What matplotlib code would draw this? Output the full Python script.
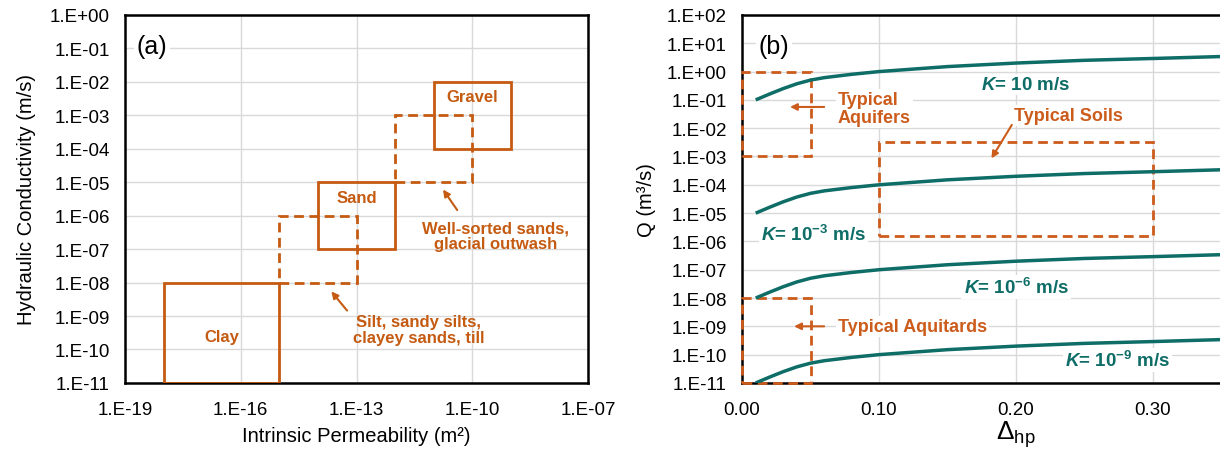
import math
import matplotlib
matplotlib.use("Agg")
import matplotlib.pyplot as plt
from matplotlib.patches import Rectangle
from matplotlib.ticker import FixedLocator, FuncFormatter

plt.rcParams['font.family'] = ['Liberation Sans', 'DejaVu Sans']
plt.rcParams['mathtext.fontset'] = 'custom'
plt.rcParams['mathtext.rm'] = 'Liberation Sans'
plt.rcParams['mathtext.it'] = 'Liberation Sans:italic'
plt.rcParams['mathtext.bf'] = 'Liberation Sans:bold'
plt.rcParams['mathtext.bfit'] = 'Liberation Sans:bold:italic'

ORANGE = '#C55A11'
ORANGE_B = '#CC5C1C'
TEAL = '#0E6D67'
GRID = '#D9D9D9'

# ---- panel (a): material ranges (permeability vs conductivity) ----
mat_names = ['Clay', 'Silt', 'Sand', 'Well-sorted', 'Gravel']
mat_kmin = [1e-18, 1e-15, 1e-14, 1e-12, 1e-11]
mat_kmax = [1e-15, 1e-13, 1e-12, 1e-10, 1e-9]
mat_hmin = [1e-11, 1e-8, 1e-7, 1e-5, 1e-4]
mat_hmax = [1e-8, 1e-6, 1e-5, 1e-3, 1e-2]
mat_dashed = [False, True, False, True, False]

# ---- panel (b): discharge vs Delta_hp ----
dhp = [0.01, 0.02, 0.03, 0.04, 0.05, 0.06, 0.08, 0.10, 0.15, 0.20, 0.25, 0.30, 0.35, 0.40]
q_k1e1 = [1.0e-1, 1.6e-1, 2.5e-1, 3.7e-1, 5.0e-1, 6.1e-1, 8.0e-1, 1.0, 1.5, 2.0, 2.5, 2.9, 3.4, 3.8]
q_k1e3 = [1.0e-5, 1.6e-5, 2.5e-5, 3.7e-5, 5.0e-5, 6.1e-5, 8.0e-5, 1.0e-4, 1.5e-4, 2.0e-4, 2.5e-4, 2.9e-4, 3.4e-4, 3.8e-4]
q_k1e6 = [1.0e-8, 1.6e-8, 2.5e-8, 3.7e-8, 5.0e-8, 6.1e-8, 8.0e-8, 1.0e-7, 1.5e-7, 2.0e-7, 2.5e-7, 2.9e-7, 3.4e-7, 3.8e-7]
q_k1e9 = [1.0e-11, 1.6e-11, 2.5e-11, 3.7e-11, 5.0e-11, 6.1e-11, 8.0e-11, 1.0e-10, 1.5e-10, 2.0e-10, 2.5e-10, 2.9e-10, 3.4e-10, 3.8e-10]

zone_names = ['Aquifers', 'Soils', 'Aquitards']
zone_xmin = [0.0, 0.10, 0.0]
zone_xmax = [0.05, 0.30, 0.05]
zone_qmin = [1e-3, 1.6e-6, 1e-11]
zone_qmax = [1e0, 3.3e-3, 1e-8]


def sci_fmt(v, pos):
    e = int(round(math.log10(v)))
    return '1.E%s%02d' % ('+' if e >= 0 else '-', abs(e))


fig = plt.figure(figsize=(12.2, 4.56), dpi=100)
ax1 = fig.add_axes([0.1025, 0.158, 0.3795, 0.807])
ax2 = fig.add_axes([0.6082, 0.158, 0.4492, 0.807])

for ax in (ax1, ax2):
    for s in ax.spines.values():
        s.set_linewidth(1.8)
        s.set_color('black')
    ax.tick_params(length=0, labelsize=13.5, pad=11)
    ax.tick_params(axis='x', pad=13)
    ax.grid(True, color=GRID, lw=1.0)
    ax.set_axisbelow(True)

# panel (a)
ax1.set_xscale('log')
ax1.set_yscale('log')
ax1.set_xlim(1e-19, 1e-7)
ax1.set_ylim(1e-11, 1e0)
ax1.xaxis.set_major_locator(FixedLocator([1e-19, 1e-16, 1e-13, 1e-10, 1e-7]))
ax1.yaxis.set_major_locator(FixedLocator([10.0 ** e for e in range(-11, 1)]))
ax1.xaxis.set_minor_locator(FixedLocator([]))
ax1.yaxis.set_minor_locator(FixedLocator([]))
ax1.xaxis.set_major_formatter(FuncFormatter(sci_fmt))
ax1.yaxis.set_major_formatter(FuncFormatter(sci_fmt))

for i in range(len(mat_names)):
    ax1.add_patch(Rectangle((mat_kmin[i], mat_hmin[i]), mat_kmax[i] - mat_kmin[i],
                            mat_hmax[i] - mat_hmin[i], fill=False, ec=ORANGE, lw=2,
                            ls=(0, (3.5, 2)) if mat_dashed[i] else '-', zorder=3))

lab = dict(color=ORANGE, fontsize=12, fontweight='bold', ha='center', va='center')
ax1.text(1e-10, 10 ** -2.45, 'Gravel', **lab)
ax1.text(1e-13, 10 ** -5.45, 'Sand', **lab)
ax1.text(10 ** -16.5, 10 ** -9.6, 'Clay', **lab)
ax1.text(10 ** -9.4, 10 ** -6.6, 'Well-sorted sands,\nglacial outwash', linespacing=1.1, **lab)
ax1.text(10 ** -11.4, 10 ** -9.4, 'Silt, sandy silts,\nclayey sands, till', linespacing=1.1, **lab)
arr = dict(arrowstyle='-|>', color=ORANGE, lw=1.5, mutation_scale=10)
ax1.annotate('', xy=(10 ** -10.8, 10 ** -5.15), xytext=(10 ** -10.35, 10 ** -5.9), arrowprops=arr)
ax1.annotate('', xy=(10 ** -13.7, 10 ** -8.2), xytext=(10 ** -13.2, 10 ** -8.9), arrowprops=arr)
ax1.text(10 ** -18.7, 10 ** -0.93, '(a)', fontsize=18, ha='left', va='center',
         bbox=dict(fc='white', ec='none', pad=2))
ax1.set_xlabel('Intrinsic Permeability (m²)', fontsize=14.5, labelpad=6)
ax1.set_ylabel('Hydraulic Conductivity (m/s)', fontsize=14.5, labelpad=10)

# panel (b)
ax2.set_yscale('log')
ax2.set_xlim(0, 0.4)
ax2.set_ylim(1e-11, 1e2)
ax2.xaxis.set_major_locator(FixedLocator([0.0, 0.1, 0.2, 0.3]))
ax2.xaxis.set_major_formatter(FuncFormatter(lambda v, p: '%.2f' % v))
ax2.yaxis.set_major_locator(FixedLocator([10.0 ** e for e in range(-11, 3)]))
ax2.yaxis.set_minor_locator(FixedLocator([]))
ax2.yaxis.set_major_formatter(FuncFormatter(sci_fmt))

for q in (q_k1e1, q_k1e3, q_k1e6, q_k1e9):
    ax2.plot(dhp, q, color=TEAL, lw=2.5, zorder=4, solid_capstyle='butt',
             solid_joinstyle='round')

for i in range(len(zone_names)):
    ax2.add_patch(Rectangle((zone_xmin[i], zone_qmin[i]), zone_xmax[i] - zone_xmin[i],
                            zone_qmax[i] - zone_qmin[i], fill=False, ec=ORANGE_B, lw=2,
                            ls=(0, (3.5, 2)), zorder=3, clip_on=False))

tlab = dict(color=TEAL, fontsize=13.5, fontweight='bold', ha='center', va='center',
            bbox=dict(fc='white', ec='none', pad=1.5), zorder=5)
ax2.text(0.207, 10 ** -0.45, r'$\mathbfit{K}$= 10 m/s', **tlab)
ax2.text(0.052, 10 ** -5.72, r'$\mathbfit{K}$= 10$^{\mathbf{-3}}$ m/s', **tlab)
ax2.text(0.20, 10 ** -7.6, r'$\mathbfit{K}$= 10$^{\mathbf{-6}}$ m/s', **tlab)
ax2.text(0.274, 10 ** -10.2, r'$\mathbfit{K}$= 10$^{\mathbf{-9}}$ m/s', **tlab)

olab = dict(color=ORANGE_B, fontsize=13, fontweight='bold', va='center',
            bbox=dict(fc='white', ec='none', pad=1.5), zorder=5)
ax2.text(0.07, 10 ** -1.3, 'Typical\nAquifers', ha='left', linespacing=1.05, **olab)
ax2.text(0.238, 10 ** -1.55, 'Typical Soils', ha='center', **olab)
ax2.text(0.07, 10 ** -9.0, 'Typical Aquitards', ha='left', **olab)
arr2 = dict(arrowstyle='-|>', color=ORANGE_B, lw=1.5, mutation_scale=10)
ax2.annotate('', xy=(0.033, 10 ** -1.25), xytext=(0.062, 10 ** -1.25), arrowprops=arr2, zorder=6)
ax2.annotate('', xy=(0.036, 10 ** -9.0), xytext=(0.062, 10 ** -9.0), arrowprops=arr2, zorder=6)
ax2.annotate('', xy=(0.181, 10 ** -3.15), xytext=(0.198, 10 ** -1.8), arrowprops=arr2, zorder=6)
ax2.text(0.012, 10 ** 0.92, '(b)', fontsize=18, ha='left', va='center',
         bbox=dict(fc='white', ec='none', pad=2))
ax2.set_xlabel(r'$\Delta_{\mathrm{hp}}$', fontsize=19, labelpad=0)
ax2.set_ylabel('Q (m³/s)', fontsize=14.5, labelpad=8)

fig.savefig('out.png', dpi=100)
